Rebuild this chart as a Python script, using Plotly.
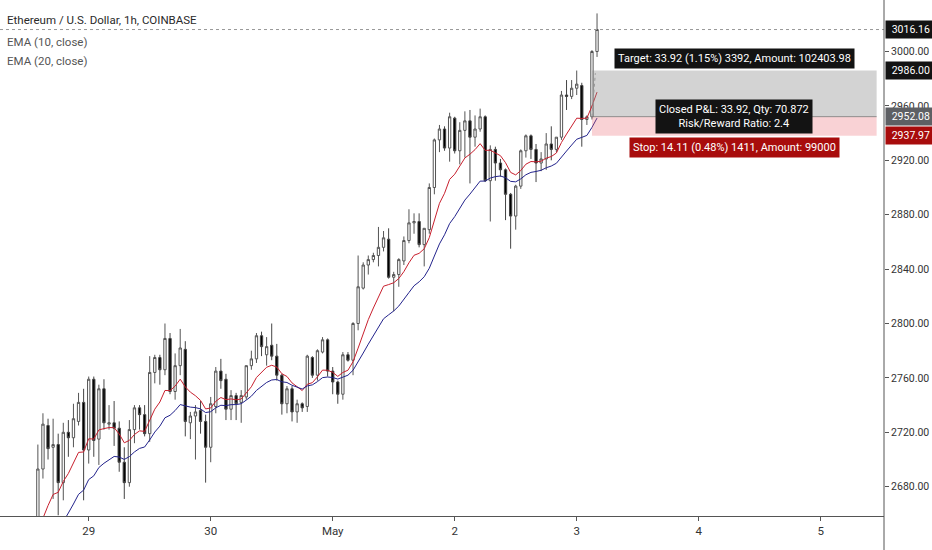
import pandas as pd
import plotly.graph_objects as go

# ── DATA ──────────────────────────────────────────────────────────────────────
times = pd.date_range("2021-04-28 14:00", periods=111, freq="h")

opens = [2652, 2693, 2725, 2709, 2711, 2683, 2720, 2716, 2728, 2742,
         2707, 2759, 2715, 2752, 2726, 2727, 2723, 2698, 2683, 2722,
         2738, 2733, 2719, 2764, 2775, 2766, 2789, 2750, 2769, 2781,
         2727, 2732, 2736, 2728, 2709, 2739, 2765, 2759, 2737, 2747,
         2742, 2746, 2769, 2774, 2791, 2777, 2784, 2776, 2762, 2741,
         2752, 2735, 2741, 2739, 2775, 2762, 2779, 2788, 2765, 2757,
         2748, 2777, 2773, 2800, 2826, 2843, 2847, 2850, 2856, 2862,
         2834, 2836, 2846, 2861, 2874, 2875, 2858, 2869, 2900, 2935,
         2943, 2929, 2951, 2927, 2942, 2949, 2937, 2943, 2952, 2905,
         2928, 2918, 2913, 2895, 2879, 2901, 2927, 2938, 2928, 2918,
         2921, 2932, 2928, 2937, 2968, 2967, 2973, 2975, 2950, 2952,
         3000]
highs = [2711, 2734, 2730, 2730, 2719, 2727, 2729, 2741, 2749, 2752,
         2761, 2761, 2755, 2759, 2740, 2743, 2728, 2709, 2729, 2740,
         2740, 2740, 2776, 2777, 2777, 2800, 2793, 2778, 2796, 2787,
         2735, 2740, 2743, 2733, 2746, 2768, 2774, 2763, 2751, 2749,
         2751, 2769, 2780, 2793, 2794, 2790, 2800, 2785, 2763, 2754,
         2754, 2744, 2742, 2777, 2776, 2781, 2790, 2789, 2768, 2758,
         2779, 2779, 2801, 2850, 2845, 2850, 2852, 2871, 2868, 2870,
         2838, 2848, 2864, 2884, 2881, 2881, 2870, 2903, 2936, 2946,
         2945, 2955, 2952, 2948, 2956, 2957, 2953, 2958, 2953, 2931,
         2930, 2921, 2914, 2896, 2902, 2928, 2939, 2939, 2932, 2926,
         2940, 2945, 2937, 2971, 2979, 2979, 2986, 2977, 2953, 3001,
         3028]
lows = [2646, 2686, 2700, 2671, 2659, 2670, 2702, 2709, 2725, 2670,
        2697, 2702, 2696, 2722, 2722, 2710, 2691, 2671, 2680, 2712,
        2722, 2717, 2713, 2756, 2755, 2762, 2748, 2744, 2762, 2717,
        2715, 2700, 2719, 2683, 2698, 2734, 2752, 2729, 2729, 2729,
        2727, 2744, 2766, 2771, 2776, 2769, 2773, 2758, 2733, 2734,
        2728, 2727, 2735, 2735, 2760, 2758, 2778, 2761, 2748, 2741,
        2744, 2772, 2762, 2795, 2825, 2836, 2845, 2842, 2853, 2833,
        2809, 2827, 2843, 2859, 2866, 2856, 2842, 2866, 2895, 2926,
        2927, 2919, 2925, 2917, 2922, 2903, 2930, 2941, 2904, 2875,
        2905, 2908, 2876, 2855, 2869, 2899, 2922, 2921, 2904, 2912,
        2913, 2920, 2926, 2935, 2957, 2965, 2968, 2930, 2946, 2950,
        2996]
closes = [2693, 2726, 2708, 2711, 2683, 2720, 2716, 2730, 2742, 2707,
          2759, 2714, 2752, 2727, 2727, 2723, 2698, 2683, 2722, 2738,
          2733, 2719, 2764, 2775, 2766, 2789, 2750, 2769, 2782, 2728,
          2732, 2735, 2728, 2709, 2741, 2765, 2758, 2737, 2747, 2741,
          2747, 2769, 2774, 2791, 2783, 2783, 2776, 2762, 2741, 2752,
          2735, 2741, 2738, 2776, 2762, 2780, 2788, 2765, 2757, 2748,
          2777, 2773, 2800, 2827, 2843, 2847, 2850, 2856, 2863, 2834,
          2836, 2847, 2861, 2874, 2875, 2858, 2870, 2900, 2935, 2943,
          2929, 2952, 2927, 2942, 2949, 2937, 2943, 2952, 2905, 2928,
          2918, 2913, 2895, 2879, 2901, 2927, 2938, 2928, 2918, 2921,
          2932, 2928, 2937, 2968, 2967, 2973, 2976, 2950, 2952, 3000,
          3016.16]

# EMA values where the lines enter the view (earlier bars are off-screen)
ema10_seed = 2630
ema20_seed = 2612

# long position tool
entry_price = 2952.08
target_price = 2986.00
stop_price = 2937.97
pos_start = "2021-05-03 03:00"
pos_end = "2021-05-05 11:00"
label_x = "2021-05-04 07:00"
target_text = "Target: 33.92 (1.15%) 3392, Amount: 102403.98"
pnl_text = "Closed P&amp;L: 33.92, Qty: 70.872<br>Risk/Reward Ratio: 2.4"
stop_text = "Stop: 14.11 (0.48%) 1411, Amount: 99000"

day_ticks = ["2021-04-29", "2021-04-30", "2021-05-01", "2021-05-02",
             "2021-05-03", "2021-05-04", "2021-05-05"]
day_labels = ["29", "30", "May", "2", "3", "4", "5"]
price_ticks = [2680, 2720, 2760, 2800, 2840, 2880, 2920, 2960, 3000]


def ema(values, span, seed):
    a = 2 / (span + 1)
    out, prev = [], seed
    for v in values:
        prev = prev + a * (v - prev)
        out.append(prev)
    return out


FONT = "Roboto, Liberation Sans, sans-serif"

fig = go.Figure()

fig.add_trace(go.Candlestick(
    x=times, open=opens, high=highs, low=lows, close=closes,
    increasing=dict(line=dict(color="#555555", width=1), fillcolor="#ffffff"),
    decreasing=dict(line=dict(color="#444444", width=1), fillcolor="#000000"),
    whiskerwidth=0, hoverinfo="skip",
))
fig.add_trace(go.Scatter(x=times, y=ema(closes, 10, ema10_seed), mode="lines",
                         line=dict(color="#c8202e", width=1), hoverinfo="skip"))
fig.add_trace(go.Scatter(x=times, y=ema(closes, 20, ema20_seed), mode="lines",
                         line=dict(color="#23238c", width=1), hoverinfo="skip"))

# position boxes
fig.add_shape(type="rect", x0=pos_start, x1=pos_end, y0=entry_price, y1=target_price,
              fillcolor="rgba(140,140,140,0.38)", line_width=0, layer="above")
fig.add_shape(type="rect", x0=pos_start, x1=pos_end, y0=stop_price, y1=entry_price,
              fillcolor="rgba(235,105,115,0.30)", line_width=0, layer="above")
fig.add_shape(type="line", x0=pos_start, x1=pos_end, y0=entry_price, y1=entry_price,
              line=dict(color="rgba(110,110,110,0.7)", width=1))
fig.add_shape(type="line", x0=pos_start, x1="2021-05-03 03:40", y0=entry_price,
              y1=target_price - 2, line=dict(color="#999999", width=1, dash="dot"))

# last price line
fig.add_shape(type="line", xref="paper", x0=0, x1=1, y0=closes[-1], y1=closes[-1],
              line=dict(color="#999999", width=1, dash="dot"))

# right axis line running down to the bottom edge
fig.add_shape(type="line", xref="paper", yref="paper", x0=1, x1=1, y0=-0.07, y1=1,
              line=dict(color="#555555", width=1))

lbl = dict(showarrow=False, font=dict(family=FONT, size=11, color="#ffffff"), borderpad=3)
fig.add_annotation(x=label_x, y=target_price, text=target_text, yanchor="bottom",
                   yshift=2, bgcolor="#131313", **lbl)
fig.add_annotation(x=label_x, y=entry_price, text=pnl_text, yanchor="middle",
                   bgcolor="#131313", **lbl)
fig.add_annotation(x=label_x, y=stop_price, text=stop_text, yanchor="top",
                   yshift=-1, bgcolor="#a80c0c", **lbl)

# price labels on the axis
for price, color in [(closes[-1], "#131313"), (target_price, "#131313"),
                     (entry_price, "#5e6064"), (stop_price, "#a80c0c")]:
    fig.add_annotation(xref="paper", x=1, y=price, xanchor="left", yanchor="middle",
                       text=f"{price:.2f}", showarrow=False, bgcolor=color,
                       width=42, align="right", borderpad=2, xshift=1,
                       font=dict(family=FONT, size=10.5, color="#ffffff"))

# legend header
head = dict(xref="paper", yref="paper", x=0.006, xanchor="left", yanchor="middle",
            showarrow=False)
fig.add_annotation(y=0.961, text="Ethereum / U.S. Dollar, 1h, COINBASE",
                   font=dict(family=FONT, size=11.5, color="#2a2a2a"), **head)
fig.add_annotation(y=0.919, text="EMA (10, close)",
                   font=dict(family=FONT, size=11.5, color="#555555"), **head)
fig.add_annotation(y=0.882, text="EMA (20, close)",
                   font=dict(family=FONT, size=11.5, color="#555555"), **head)

fig.update_layout(
    width=932, height=550,
    margin=dict(l=0, r=48, t=0, b=34),
    paper_bgcolor="white", plot_bgcolor="white",
    showlegend=False, boxgap=0.35,
    font=dict(family=FONT, size=12, color="#333333"),
)
fig.update_xaxes(
    type="date", range=["2021-04-28 06:33", "2021-05-05 12:27"],
    rangeslider_visible=False, showgrid=False, zeroline=False,
    showline=True, linecolor="#555555",
    ticks="outside", ticklen=4, tickcolor="#555555",
    tickvals=day_ticks, ticktext=day_labels, tickfont=dict(size=11.5),
)
fig.update_yaxes(
    side="right", range=[2658.46, 3037.87], showgrid=False, zeroline=False,
    showline=False, ticks="outside", ticklen=4, tickcolor="#555555",
    tickvals=price_ticks, tickformat=".2f", tickfont=dict(size=10.5),
)

fig.write_html("out.html", config={"displayModeBar": False})

# drop the browser's default page margin so the figure sits at the top-left corner
with open("out.html", encoding="utf-8") as f:
    page = f.read()
page = page.replace("<body>", '<body style="margin:0">', 1)
with open("out.html", "w", encoding="utf-8") as f:
    f.write(page)
